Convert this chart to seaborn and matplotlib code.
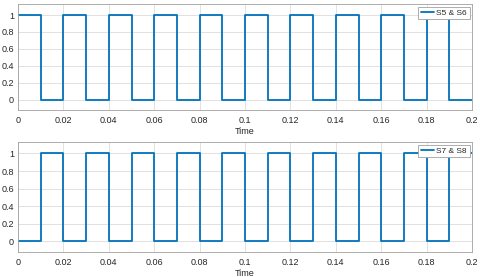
import matplotlib
matplotlib.use("Agg")
import matplotlib.pyplot as plt
import seaborn as sns
import pandas as pd

sns.set_theme(style="whitegrid")
plt.rcParams['font.family'] = ['Liberation Sans', 'DejaVu Sans']

time = [0.00, 0.01, 0.02, 0.03, 0.04, 0.05, 0.06, 0.07, 0.08, 0.09, 0.10,
        0.11, 0.12, 0.13, 0.14, 0.15, 0.16, 0.17, 0.18, 0.19, 0.20]
s5_s6 = [1, 0, 1, 0, 1, 0, 1, 0, 1, 0, 1, 0, 1, 0, 1, 0, 1, 0, 1, 0, 0]
s7_s8 = [0, 1, 0, 1, 0, 1, 0, 1, 0, 1, 0, 1, 0, 1, 0, 1, 0, 1, 0, 1, 1]
xticks = [0, 0.02, 0.04, 0.06, 0.08, 0.1, 0.12, 0.14, 0.16, 0.18, 0.2]
xticklabels = ["0", "0.02", "0.04", "0.06", "0.08", "0.1", "0.12", "0.14", "0.16", "0.18", "0.2"]
yticks = [0, 0.2, 0.4, 0.6, 0.8, 1]
yticklabels = ["0", "0.2", "0.4", "0.6", "0.8", "1"]

fig = plt.figure(figsize=(4.8, 2.77), dpi=100)
ax1 = fig.add_axes([18/480, 1-110/277, (472-18)/480, (110-4)/277])
ax2 = fig.add_axes([18/480, 1-252/277, (472-18)/480, (252-142)/277])

blue = "#0072BD"
for ax, vals, name in [(ax1, s5_s6, "S5 & S6"), (ax2, s7_s8, "S7 & S8")]:
    df = pd.DataFrame({"Time": time, "v": vals})
    sns.lineplot(data=df, x="Time", y="v", ax=ax, color=blue, linewidth=1.3,
                 drawstyle="steps-post", label=name)
    ax.set_xlim(0, 0.2)
    ax.set_ylim(-0.12, 1.13)
    ax.set_xticks(xticks)
    ax.set_xticklabels(xticklabels)
    ax.set_yticks(yticks)
    ax.set_yticklabels(yticklabels)
    ax.tick_params(labelsize=6.5, colors="#262626", length=0)
    ax.tick_params(axis="x", pad=4)
    ax.tick_params(axis="y", pad=3)
    ax.set_ylabel("")
    ax.set_xlabel("Time", fontsize=6.5, labelpad=2, color="#262626")
    ax.grid(True, color="#dcdcdc", linewidth=0.6)
    for sp in ax.spines.values():
        sp.set_color("#a0a0a0")
        sp.set_linewidth(0.6)
    ax.set_facecolor("white")
    leg = ax.legend(loc="upper right", fontsize=6, handlelength=1.6, handletextpad=0.3,
                    borderpad=0.3, borderaxespad=0.3, frameon=True, fancybox=False,
                    framealpha=1)
    leg.get_frame().set_edgecolor("#a0a0a0")
    leg.get_frame().set_linewidth(0.6)

fig.savefig("out.png", dpi=100)
